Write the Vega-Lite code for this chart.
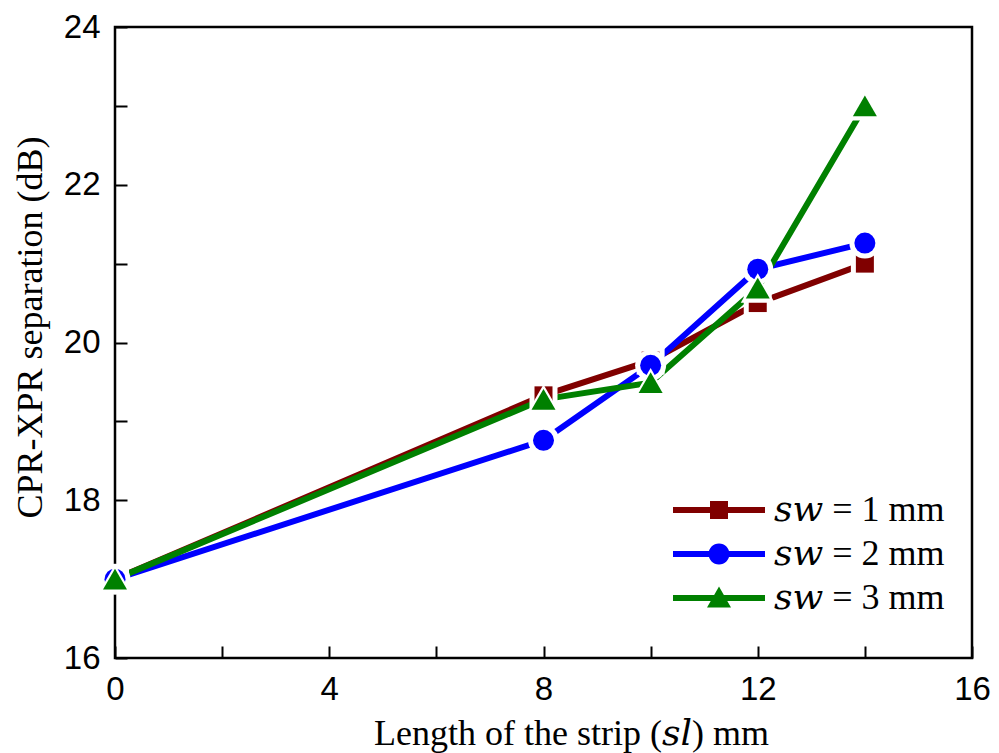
{
  "$schema": "https://vega.github.io/schema/vega-lite/v6.json",
  "width": 857,
  "height": 631,
  "autosize": {"type": "none"},
  "padding": {"left": 115, "top": 27, "right": 27, "bottom": 95},
  "background": "white",
  "config": {
    "view": {"stroke": "black", "strokeWidth": 2.5},
    "axis": {
      "domain": false,
      "grid": false,
      "ticks": true,
      "tickColor": "black",
      "tickWidth": 2,
      "labelFont": "Liberation Sans",
      "labelFontSize": 33,
      "labelColor": "black",
      "titleFont": "Liberation Serif, DejaVu Serif",
      "titleFontSize": 36,
      "titleFontWeight": "normal",
      "titleColor": "black"
    }
  },
  "data": {
    "values": [
      {"sl": 0, "sep": 17.0, "series": "sw = 1 mm"},
      {"sl": 8, "sep": 19.33, "series": "sw = 1 mm"},
      {"sl": 10, "sep": 19.77, "series": "sw = 1 mm"},
      {"sl": 12, "sep": 20.5, "series": "sw = 1 mm"},
      {"sl": 14, "sep": 21.0, "series": "sw = 1 mm"},
      {"sl": 0, "sep": 17.0, "series": "sw = 2 mm"},
      {"sl": 8, "sep": 18.76, "series": "sw = 2 mm"},
      {"sl": 10, "sep": 19.71, "series": "sw = 2 mm"},
      {"sl": 12, "sep": 20.93, "series": "sw = 2 mm"},
      {"sl": 14, "sep": 21.26, "series": "sw = 2 mm"},
      {"sl": 0, "sep": 17.0, "series": "sw = 3 mm"},
      {"sl": 8, "sep": 19.28, "series": "sw = 3 mm"},
      {"sl": 10, "sep": 19.49, "series": "sw = 3 mm"},
      {"sl": 12, "sep": 20.69, "series": "sw = 3 mm"},
      {"sl": 14, "sep": 23.0, "series": "sw = 3 mm"}
    ]
  },
  "encoding": {
    "x": {
      "field": "sl",
      "type": "quantitative",
      "scale": {"domain": [0, 16], "nice": false, "zero": false},
      "axis": {
        "title": "Length of the strip (𝑠𝑙) mm",
        "values": [0, 2, 4, 6, 8, 10, 12, 14, 16],
        "labelExpr": "datum.value % 4 === 0 ? datum.label : ''",
        "tickSize": -12,
        "labelPadding": 27,
        "labelFlush": false,
        "labelOverlap": false,
        "titlePadding": 10,
        "titleX": 456,
        "encode": {"ticks": {"y2": {"value": {"expr": "datum.value % 4 === 0 ? -12 : -6"}}}}
      }
    },
    "y": {
      "field": "sep",
      "type": "quantitative",
      "scale": {"domain": [16, 24], "nice": false, "zero": false},
      "axis": {
        "title": "CPR-XPR separation (dB)",
        "values": [16, 17, 18, 19, 20, 21, 22, 23, 24],
        "labelExpr": "datum.value % 2 === 0 ? datum.label : ''",
        "tickSize": -12,
        "labelPadding": 27,
        "labelFlush": false,
        "labelOverlap": false,
        "titlePadding": 14,
        "titleY": 300,
        "encode": {"ticks": {"x2": {"value": {"expr": "datum.value % 2 === 0 ? 12 : 6"}}}}
      }
    },
    "color": {
      "field": "series",
      "type": "nominal",
      "scale": {"domain": ["sw = 1 mm", "sw = 2 mm", "sw = 3 mm"], "range": ["#800000", "#0000ff", "#008000"]},
      "legend": {
        "orient": "none",
        "legendX": 586,
        "legendY": 465,
        "title": null,
        "padding": 0,
        "labelFont": "Liberation Serif, DejaVu Serif",
        "labelFontSize": 36,
        "labelColor": "black",
        "labelOffset": 37,
        "labelLimit": 400,
        "labelExpr": "replace(datum.label, 'sw', '𝑠𝑤')",
        "symbolSize": 400,
        "symbolStrokeWidth": 0,
        "rowPadding": 8,
        "encode": {
          "symbols": {
            "update": {
              "shape": {"signal": "datum.value === 'sw = 1 mm' ? 'M-4.6,-0.3H4.6V0.3H-4.6Z M-0.9,-0.9H0.9V0.9H-0.9Z' : datum.value === 'sw = 2 mm' ? 'M-4.6,-0.3H4.6V0.3H-4.6Z M-1.05,0A1.05,1.05 0 1,1 1.05,0A1.05,1.05 0 1,1 -1.05,0Z' : 'M-4.6,-0.3H4.6V0.3H-4.6Z M0,-1.15L1.2,0.95H-1.2Z'"},
              "fill": {"signal": "datum.value === 'sw = 1 mm' ? '#800000' : datum.value === 'sw = 2 mm' ? '#0000ff' : '#008000'"},
              "fillOpacity": {"value": 1},
              "opacity": {"value": 1},
              "strokeWidth": {"value": 0},
              "size": {"value": 400}
            }
          }
        }
      }
    }
  },
  "layer": [
    {"mark": {"type": "line", "strokeWidth": 6}},
    {
      "transform": [{"filter": "datum.series === 'sw = 1 mm'"}],
      "mark": {"type": "point", "filled": true, "opacity": 1, "shape": "square", "size": 784},
      "encoding": {"color": {"value": "white"}}
    },
    {
      "transform": [{"filter": "datum.series === 'sw = 1 mm'"}],
      "mark": {"type": "point", "filled": true, "opacity": 1, "shape": "square", "size": 324}
    },
    {
      "transform": [{"filter": "datum.series === 'sw = 2 mm'"}],
      "mark": {"type": "point", "filled": true, "opacity": 1, "shape": "circle", "size": 961},
      "encoding": {"color": {"value": "white"}}
    },
    {
      "transform": [{"filter": "datum.series === 'sw = 2 mm'"}],
      "mark": {"type": "point", "filled": true, "opacity": 1, "shape": "circle", "size": 441}
    },
    {
      "transform": [{"filter": "datum.series === 'sw = 3 mm'"}],
      "mark": {"type": "point", "filled": true, "opacity": 1, "shape": "triangle-up", "size": 1156},
      "encoding": {"color": {"value": "white"}}
    },
    {
      "transform": [{"filter": "datum.series === 'sw = 3 mm'"}],
      "mark": {"type": "point", "filled": true, "opacity": 1, "shape": "triangle-up", "size": 576}
    }
  ]
}
